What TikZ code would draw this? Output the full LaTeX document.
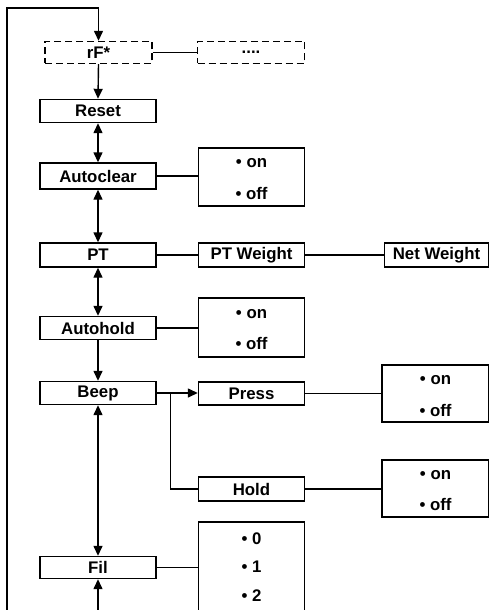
\documentclass[tikz,border=0pt]{standalone}
\usepackage{fontspec}
\setmainfont{Liberation Sans}
\usetikzlibrary{arrows.meta}
\begin{document}
\begin{tikzpicture}[x=1pt,y=-1pt,
  line width=1.4pt,
  every node/.style={font=\fontsize{16.8}{19}\selectfont\bfseries, inner sep=0pt},
  menu/.style={draw, rectangle, minimum width=116pt, minimum height=23pt},
  dbox/.style={draw, dashed, dash pattern=on 7pt off 4pt, rectangle, minimum width=107pt, minimum height=22pt},
  sub/.style={draw, rectangle, minimum width=106pt, minimum height=24pt},
  opt/.style={draw, rectangle, minimum width=106pt, minimum height=58pt},
  arr/.style={-{Triangle[length=10pt,width=9pt]}},
  arrb/.style={{Triangle[length=10pt,width=9pt]}-{Triangle[length=10pt,width=9pt]}},
  lbl/.style={anchor=center}
]
\clip (0,0) rectangle (489,610);
% main column
\node[dbox] (rf) at (98.5,52.5) {rF*};
\node[dbox] (dots) at (251,52.5) {....};
\node[menu] (reset) at (98,111) {Reset};
\node[menu, minimum height=26pt] (autoclear) at (98,176) {Autoclear};
\node[menu, minimum height=24pt] (pt) at (98,255) {PT};
\node[menu] (autohold) at (98,328) {Autohold};
\node[menu] (beep) at (98,393) {Beep};
\node[menu, minimum height=22pt] (fil) at (98,567.5) {Fil};
% second column
\node[opt] (acopt) at (251.5,177) {};
\node[lbl] (acon) at (251.5,163) {• on};
\node[lbl] (acoff) at (251.5,193) {• off};
\node[sub] (ptw) at (251.5,255) {PT Weight};
\node[sub, minimum width=104pt] (netw) at (436.5,255) {Net Weight};
\node[opt, minimum height=59pt] (ahopt) at (251.5,327.5) {};
\node[lbl] (ahon) at (251.5,314) {• on};
\node[lbl] (ahoff) at (251.5,343) {• off};
\node[sub, minimum height=23pt] (press) at (251.5,393.5) {Press};
\node[sub] (hold) at (251.5,489) {Hold};
\node[opt, minimum height=57pt, minimum width=107pt] (propt) at (435.5,393.5) {};
\node[lbl] (pron) at (435.5,380) {• on};
\node[lbl] (proff) at (435.5,410) {• off};
\node[opt, minimum height=57pt, minimum width=107pt] (hoopt) at (435.5,488.5) {};
\node[lbl] (hoon) at (435.5,475) {• on};
\node[lbl] (hooff) at (435.5,504) {• off};
\node[opt, minimum height=118pt] (filopt) at (251.5,581) {};
\node[lbl] (f0) at (251.5,539) {• 0};
\node[lbl] (f1) at (251.5,567) {• 1};
\node[lbl] (f2) at (251.5,596) {• 2};
% coordinates
\coordinate (lb) at (7,615);
\coordinate (lt) at (7,8);
\coordinate (fb) at (98,615);
\coordinate (br) at (170.5,393);
% connectors
\draw[arr] (lb) -- (lt) -| (rf.north);
\draw (rf.east) -- (rf.east -| dots.west);
\draw[arr] (rf.south) -- (reset.north);
\draw[arrb] (reset.south) -- (autoclear.north);
\draw (autoclear.east) -- (autoclear.east -| acopt.west);
\draw[arrb] (autoclear.south) -- (pt.north);
\draw (pt.east) -- (ptw.west);
\draw (ptw.east) -- (netw.west);
\draw[arrb] (pt.south) -- (autohold.north);
\draw (autohold.east) -- (autohold.east -| ahopt.west);
\draw[arr] (autohold.south) -- (beep.north);
\draw[arr] (beep.east) -- (beep.east -| press.west);
\draw (br) |- (hold.west);
\draw (press.east) -- (press.east -| propt.west);
\draw (hold.east) -- (hold.east -| hoopt.west);
\draw[arrb] (beep.south) -- (fil.north);
\draw (fil.east) -- (fil.east -| filopt.west);
\draw[arr] (fb) -- (fil.south);
\end{tikzpicture}
\end{document}
